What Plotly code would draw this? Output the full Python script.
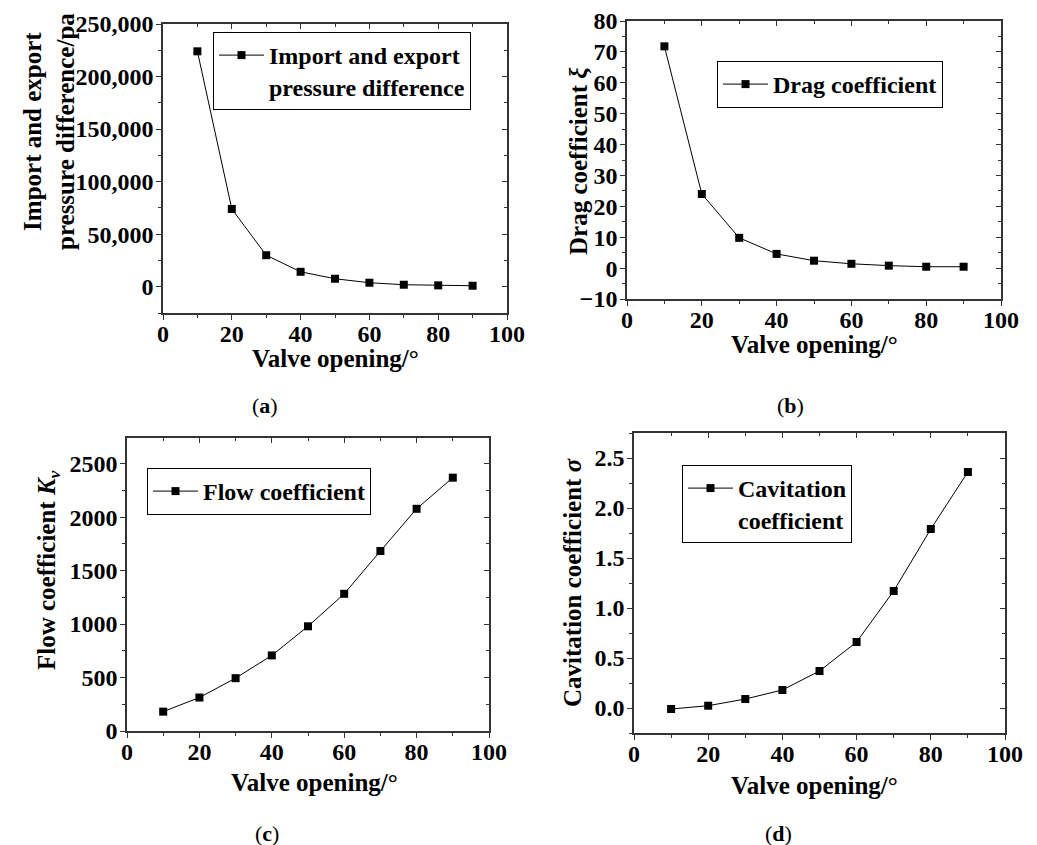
import plotly.graph_objects as go

# ---------------- data ----------------
valve_opening = [10, 20, 30, 40, 50, 60, 70, 80, 90]
pressure_diff = [224000, 74000, 30000, 14200, 7600, 3800, 1900, 1300, 950]
drag_coef = [71.8, 24.0, 9.8, 4.6, 2.4, 1.4, 0.8, 0.45, 0.45]
flow_coef = [181, 313, 494, 707, 979, 1283, 1683, 2078, 2369]
cavitation_coef = [-0.01, 0.023, 0.09, 0.18, 0.37, 0.66, 1.17, 1.79, 2.36]

legend_names = ["Import and export<br>pressure difference", "Drag coefficient",
                "Flow coefficient", "Cavitation<br>coefficient"]
y_titles = ["Import and export<br>pressure difference/pa",
            "Drag coefficient <i>ξ</i>",
            "Flow coefficient <i>K<sub>v</sub></i>",
            "Cavitation coefficient <i>σ</i>"]
x_title = "Valve opening/°"
captions = ["(<b>a</b>)", "(<b>b</b>)", "(<b>c</b>)", "(<b>d</b>)"]

FONT = "Liberation Serif"
W, H = 1037, 845


def px_x(v):
    return v / W


def px_y(v):
    return 1 - v / H


# plot-area pixel boxes: left, right, top, bottom
boxes = [(163, 507, 24, 313), (627, 1001, 21, 299), (127, 489, 438, 731), (634, 1005, 433, 733)]
y_ranges = [[-25000, 250000], [-10, 80], [0, 2740], [-0.25, 2.75]]
y_dticks = [50000, 10, 500, 0.5]
y_formats = [",", "d", "d", ".1f"]
series = [pressure_diff, drag_coef, flow_coef, cavitation_coef]
legend_pos = [(213, 32), (717, 61), (147, 468), (682, 465)]
caption_pos = [(265, 405), (790, 405), (267, 833), (778, 833)]
ytitle_pos = [(49, 132), (578, 161), (48, 570), (572, 582)]
xtitle_pos = [(335, 358), (814, 344), (314, 782), (814, 785)]

AX = "#333"
fig = go.Figure()
layout = {}
annotations = []
for i in range(4):
    n = i + 1
    xa = "x" if n == 1 else f"x{n}"
    ya = "y" if n == 1 else f"y{n}"
    lg = "legend" if n == 1 else f"legend{n}"
    l, r, t, b = boxes[i]
    mx = f"x{n + 4}"
    my = f"y{n + 4}"
    # invisible trace on the mirror axes (top/right, inward ticks)
    fig.add_trace(go.Scatter(x=valve_opening, y=series[i], xaxis=mx, yaxis=my, mode="lines",
                             line=dict(width=0, color="rgba(0,0,0,0)"), showlegend=False,
                             hoverinfo="skip"))
    fig.add_trace(go.Scatter(
        x=valve_opening, y=series[i], mode="lines+markers",
        name=legend_names[i], xaxis=xa, yaxis=ya, legend=lg,
        line=dict(color="black", width=1),
        marker=dict(symbol="square", size=8, color="black"),
    ))
    tickfont = dict(family=FONT, size=24, color="black", weight="bold")
    layout[f"xaxis{'' if n == 1 else n}"] = dict(
        domain=[px_x(l), px_x(r)], anchor=ya, range=[0, 100], dtick=20,
        showline=True, linecolor=AX, linewidth=1.5, automargin=False,
        ticks="outside", ticklen=5, tickwidth=1.2, tickcolor=AX,
        minor=dict(ticks="outside", ticklen=3, dtick=10, tickcolor=AX, tickwidth=1),
        showgrid=False, zeroline=False, tickfont=tickfont, ticklabelstandoff=-7,
    )
    layout[f"yaxis{'' if n == 1 else n}"] = dict(
        domain=[px_y(b), px_y(t)], anchor=xa, range=y_ranges[i], dtick=y_dticks[i],
        tickformat=y_formats[i], automargin=False,
        showline=True, linecolor=AX, linewidth=1.5,
        ticks="outside", ticklen=5, tickwidth=1.2, tickcolor=AX,
        minor=dict(ticks="outside", ticklen=3, dtick=y_dticks[i] / 2, tickcolor=AX, tickwidth=1),
        showgrid=False, zeroline=False, tickfont=tickfont, ticklabelstandoff=-2,
    )
    layout[f"xaxis{n + 4}"] = dict(
        domain=[px_x(l), px_x(r)], anchor=my, overlaying=xa, side="top", range=[0, 100], dtick=20,
        showline=True, linecolor=AX, linewidth=1.5, automargin=False,
        ticks="inside", ticklen=5, tickwidth=1.2, tickcolor=AX,
        minor=dict(ticks="inside", ticklen=3, dtick=10, tickcolor=AX, tickwidth=1),
        showticklabels=False, showgrid=False, zeroline=False,
    )
    layout[f"yaxis{n + 4}"] = dict(
        domain=[px_y(b), px_y(t)], anchor=mx, overlaying=ya, side="right", range=y_ranges[i],
        dtick=y_dticks[i], automargin=False,
        showline=True, linecolor=AX, linewidth=1.5,
        ticks="inside", ticklen=5, tickwidth=1.2, tickcolor=AX,
        minor=dict(ticks="inside", ticklen=3, dtick=y_dticks[i] / 2, tickcolor=AX, tickwidth=1),
        showticklabels=False, showgrid=False, zeroline=False,
    )
    lx, ly = legend_pos[i]
    layout[lg] = dict(
        x=px_x(lx), y=px_y(ly), xanchor="left", yanchor="top",
        bordercolor="black", borderwidth=1, bgcolor="white", valign="top",
        itemwidth=45, tracegroupgap=0,
        font=dict(family=FONT, size=24, color="black", weight="bold"),
    )
    tx, ty = ytitle_pos[i]
    annotations.append(dict(
        text=y_titles[i], x=px_x(tx), y=px_y(ty), xref="paper", yref="paper",
        showarrow=False, xanchor="center", yanchor="middle", textangle=-90,
        font=dict(family=FONT, size=25, color="black", weight="bold"),
    ))
    tx, ty = xtitle_pos[i]
    annotations.append(dict(
        text=x_title, x=px_x(tx), y=px_y(ty), xref="paper", yref="paper",
        showarrow=False, xanchor="center", yanchor="middle",
        font=dict(family=FONT, size=25, color="black", weight="bold"),
    ))
    cx, cy = caption_pos[i]
    annotations.append(dict(
        text=captions[i], x=px_x(cx), y=px_y(cy), xref="paper", yref="paper",
        showarrow=False, xanchor="center", yanchor="middle",
        font=dict(family=FONT, size=22, color="black"),
    ))

fig.update_layout(
    width=W, height=H, margin=dict(l=0, r=0, t=0, b=0),
    paper_bgcolor="white", plot_bgcolor="white",
    annotations=annotations, **layout,
)

fig.write_html("out.html")
